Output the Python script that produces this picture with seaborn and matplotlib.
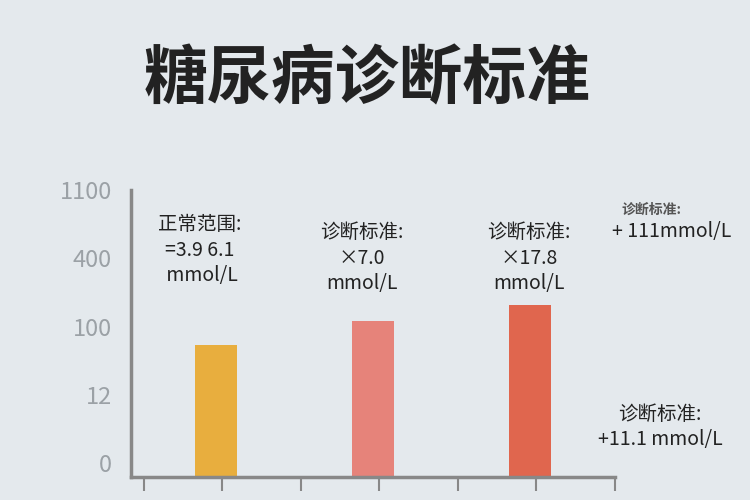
import numpy as np
import pandas as pd
import matplotlib
matplotlib.use("Agg")
from matplotlib import pyplot as plt
import seaborn as sns

categories = ["正常范围", "诊断标准 7.0", "诊断标准 17.8"]
# heights in tick-index units, measured from the bottom spine
heights = [1.93, 2.28, 2.51]
bar_colors = ["#E8AE3E", "#E6837A", "#E0664E"]
ytick_labels = ["0", "12", "100", "400", "1100"]
ytick_pos = [0.2, 1.2, 2.2, 3.2, 4.2]

sns.set_style("white")
plt.rcParams["font.family"] = ["Noto Sans CJK SC", "DejaVu Sans"]
bg = "#E4E9ED"

fig = plt.figure(figsize=(7.5, 5), dpi=100, facecolor=bg)
ax = fig.add_axes([0.175, 0.046, 0.645, 0.574], facecolor=bg)

df = pd.DataFrame({"cat": categories, "val": heights})
sns.barplot(data=df, x="cat", y="val", hue="cat", palette=bar_colors,
            width=0.27, legend=False, ax=ax, saturation=1, linewidth=0)

ax.set_xlim(-0.54, 2.54)
ax.set_ylim(0, 4.2)
ax.set_yticks(ytick_pos)
ax.set_yticklabels(ytick_labels, fontsize=17, color="#9ba1a6")
ax.set_xticks(np.arange(-0.46, 2.6, 0.5))
ax.set_xticklabels([])
ax.tick_params(axis="y", length=10, width=1.5, color="#888888", pad=4)
ax.tick_params(axis="x", length=10, width=1.5, color="#888888", direction="out", bottom=True)
ax.set_xlabel("")
ax.set_ylabel("")
for s in ["top", "right"]:
    ax.spines[s].set_visible(False)
for s in ["left", "bottom"]:
    ax.spines[s].set_color("#888888")
    ax.spines[s].set_linewidth(2.5)

fig.text(0.49, 0.84, "糖尿病诊断标准", fontsize=46, fontweight="bold",
         color="#222222", ha="center", va="center")

kw = dict(fontsize=14, fontweight="medium", color="#222222", ha="center", va="center",
          linespacing=1.3)
fig.text(200 / 750, 1 - 250 / 500, "正常范围:\n=3.9 6.1\n mmol/L", **kw)
fig.text(362 / 750, 1 - 258 / 500, "诊断标准:\n×7.0\nmmol/L", **kw)
fig.text(529 / 750, 1 - 258 / 500, "诊断标准:\n×17.8\nmmol/L", **kw)
fig.text(651 / 750, 1 - 210 / 500, "诊断标准:", fontsize=10, fontweight="bold",
         color="#555555", ha="center", va="center")
fig.text(672 / 750, 1 - 231 / 500, "+ 111mmol/L", fontsize=14, fontweight="medium",
         color="#222222", ha="center", va="center")
fig.text(660 / 750, 1 - 427 / 500, "诊断标准:\n+11.1 mmol/L", **kw)

fig.savefig("out.png", dpi=100, facecolor=bg)
